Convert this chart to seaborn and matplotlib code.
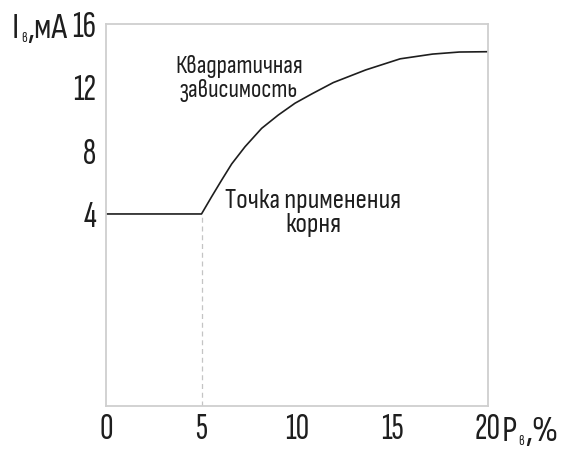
import matplotlib
matplotlib.use("Agg")
import matplotlib.pyplot as plt
import seaborn as sns
import pandas as pd

# data
p_values = [0, 5, 5.53, 6.06, 6.58, 7.28, 8.15, 9.02, 9.9, 10.8, 11.9, 13.6, 15.4, 17.1, 18.5, 20]
i_values = [4, 4, 5.09, 6.15, 7.16, 8.25, 9.41, 10.25, 11.0, 11.6, 12.3, 13.1, 13.8, 14.1, 14.23, 14.25]
x_ticks = [0, 5, 10, 15, 20]
y_ticks = [4, 8, 12, 16]
root_point = 5
label_quad = "Квадратичная\nзависимость"
label_root = "Точка применения\nкорня"

FONT = "Sofia Sans Extra Condensed"
FONT2 = "Sofia Sans Condensed"
INK = "#1e1e1e"
sns.set_theme(style="white")
plt.rcParams["font.family"] = [FONT, "DejaVu Sans"]

df = pd.DataFrame({"P": p_values, "I": i_values})

fig = plt.figure(figsize=(5.78, 4.5), dpi=100)
ax = fig.add_axes([106 / 578, 1 - 406 / 450, (488 - 106) / 578, (406 - 24) / 450])

sns.lineplot(data=df, x="P", y="I", ax=ax, color=INK, linewidth=1.2,
             sort=False, estimator=None)

ax.set_xlim(0, 20)
ax.set_ylim(-8.13, 16)
ax.vlines(root_point, -8.13, 4, colors="#c4c4c4", linestyles=(0, (4, 3)), linewidth=0.9)

ax.set_xticks(x_ticks)
ax.set_yticks(y_ticks)
ax.set_xticklabels([str(v) for v in x_ticks])
ax.set_yticklabels([str(v) for v in y_ticks])
ax.tick_params(axis="both", length=0, labelsize=27, colors=INK)
ax.tick_params(axis="x", pad=5)
ax.tick_params(axis="y", pad=7)
ax.set_xlabel("")
ax.set_ylabel("")

for s in ax.spines.values():
    s.set_color("#cfcfcf")
    s.set_linewidth(1.3)
    s.set_visible(True)

ax.text(6.96, 12.53, label_quad, ha="center", va="center", fontsize=18,
        color=INK, linespacing=1.05, family=[FONT2, "DejaVu Sans"])
ax.text(10.84, 4.06, label_root, ha="center", va="center", fontsize=20,
        color=INK, linespacing=1.0, family=[FONT2, "DejaVu Sans"])


def chained_label(x_px, base_px, parts):
    prev = fig.text(x_px / 578, 1 - base_px / 450, parts[0][0], ha="left",
                    va="baseline", fontsize=parts[0][1], color=INK,
                    family=[FONT2, "DejaVu Sans"])
    for txt, size, dx in parts[1:]:
        prev = fig.add_artist(matplotlib.text.Annotation(
            txt, xy=(1, 0), xycoords=prev, xytext=(dx, 0),
            textcoords="offset points", ha="left", va="bottom",
            fontsize=size, color=INK, family=[FONT2, "DejaVu Sans"]))
    return prev


chained_label(12, 38, [("I", 26, 0), ("в", 10, 1.0), (",мА", 26, 0.8)])
chained_label(502, 441, [("P", 26, 0), ("в", 10, 1.0), (",%", 26, 0.8)])

fig.savefig("out.png", dpi=100)
